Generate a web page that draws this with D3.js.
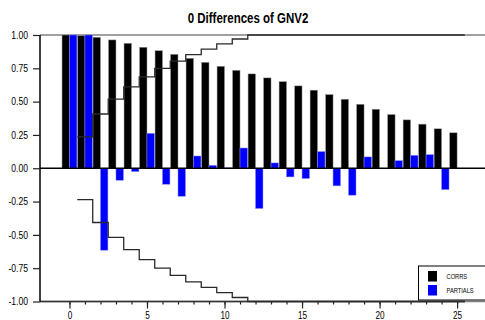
<!DOCTYPE html>
<head>
  <meta charset="utf-8">
  <script src="https://d3js.org/d3.v7.min.js"></script>
  <style>
    body { margin:0; background:#fff; }
    text { font-family: "Liberation Sans", Arial, sans-serif; }
  </style>
</head>
<body>
<script>

/* Data */
/* ==== */

var lags = d3.range(0, 26);

var corrs = [1.000, 0.995, 0.983, 0.963, 0.938, 0.908, 0.882, 0.855, 0.825, 0.795,
             0.765, 0.735, 0.708, 0.678, 0.650, 0.618, 0.586, 0.553, 0.518, 0.480,
             0.443, 0.403, 0.363, 0.331, 0.296, 0.266];

var partials = [1.000, 1.000, -0.615, -0.090, -0.025, 0.262, -0.120, -0.210, 0.092, 0.022,
                0.003, 0.152, -0.302, 0.040, -0.065, -0.077, 0.125, -0.132, -0.202, 0.085,
                0.000, 0.057, 0.097, 0.102, -0.160, 0.000];

// confidence band, lags 1..25
var bandLags = d3.range(1, 26);
var band = [0.236, 0.407, 0.519, 0.610, 0.686, 0.749, 0.804, 0.852, 0.894, 0.934,
            0.970, 1, 1, 1, 1, 1, 1, 1, 1, 1, 1, 1, 1, 1, 1];

var yTicks = [-1, -0.75, -0.5, -0.25, 0, 0.25, 0.5, 0.75, 1];
var xMajor = [0, 5, 10, 15, 20, 25];

var seriesNames = ["CORRS", "PARTIALS"];
var seriesColors = ["#000000", "#0000ff"];


/* Set up */
/* ====== */

var width = 485,
    height = 320,
    margin = { top: 35, right: 0, bottom: 18, left: 40 },
    squeeze = 0.82;   // no narrow font installed, so squeeze the text

var svg = d3.select('body')
  .append('svg')
    .attr('width', width)
    .attr('height', height);

svg.append('rect')
    .attr('width', width)
    .attr('height', height)
    .attr('fill', '#fff');

var x = d3.scaleLinear()
    .domain([-1.9, 26.8])
    .range([margin.left, width - margin.right]);

var y = d3.scaleLinear()
    .domain([-1, 1])
    .range([height - margin.bottom - 0.5, margin.top]);

var barW = 0.48;

// squeeze a text horizontally, keeping its x anchor in place
function narrow(sel) {
  sel.each(function() {
    var t = d3.select(this),
        tx = +t.attr('x') || 0;
    t.attr('x', tx / squeeze)
     .attr('transform', 'scale(' + squeeze + ',1)');
  });
}

// title
svg.append('g')
    .attr('transform', 'translate(248,23)')
  .append('text')
    .attr('text-anchor', 'middle')
    .attr('font-size', 14)
    .attr('font-weight', 'bold')
    .text('0 Differences of GNV2')
    .call(narrow);

// grey frame lines top and bottom
svg.selectAll('.frame')
    .data([1, -1])
    .enter()
  .append('line')
    .attr('x1', x.range()[0])
    .attr('x2', x.range()[1])
    .attr('y1', function(d) { return y(d); })
    .attr('y2', function(d) { return y(d); })
    .attr('stroke', '#808080')
    .attr('stroke-width', 1.6);

// x axis: minor ticks
var xMinor = d3.axisBottom(x)
    .tickValues(lags)
    .tickSize(3)
    .tickFormat('');

var gxMinor = svg.append('g')
    .attr('transform', 'translate(0,' + y(-1) + ')')
    .call(xMinor);
gxMinor.select('.domain').remove();

var xAxis = d3.axisBottom(x)
    .tickValues(xMajor)
    .tickSize(7)
    .tickPadding(3)
    .tickFormat(d3.format('d'));

var gx = svg.append('g')
    .attr('transform', 'translate(0,' + y(-1) + ')')
    .call(xAxis);
gx.select('.domain').remove();
gx.selectAll('text').attr('font-size', 10).attr('fill', '#000').call(narrow);
svg.selectAll('.tick line').attr('stroke', '#222').attr('stroke-width', 1.2);

// dark part of the x axis line
svg.append('line')
    .attr('x1', x.range()[0])
    .attr('x2', x(25.5))
    .attr('y1', y(-1))
    .attr('y2', y(-1))
    .attr('stroke', '#333')
    .attr('stroke-width', 1.4);

// y axis
var yAxis = d3.axisLeft(y)
    .tickValues(yTicks)
    .tickSize(7)
    .tickPadding(5)
    .tickFormat(function(d) { return d.toFixed(2); });

var gy = svg.append('g')
    .attr('transform', 'translate(' + x.range()[0] + ',0)')
    .call(yAxis);
gy.select('.domain')
    .attr('d', 'M0,' + y(1) + 'V' + y(-1))
    .attr('stroke', '#000')
    .attr('stroke-width', 1.5);
gy.selectAll('text').attr('font-size', 10.5).attr('fill', '#000').call(narrow);
gy.selectAll('.tick line').attr('stroke', '#222').attr('stroke-width', 1.2);


// Bars
// ====

svg.selectAll('.corrs')
    .data(lags)
    .enter()
  .append('rect')
    .classed('corrs', true)
    .attr('x', function(d) { return x(d - barW); })
    .attr('width', x(barW) - x(0))
    .attr('y', function(d) { return y(Math.max(0, corrs[d])); })
    .attr('height', function(d) { return Math.abs(y(corrs[d]) - y(0)); })
    .attr('fill', seriesColors[0])
    .attr('stroke', '#999')
    .attr('stroke-width', 0.5);

svg.selectAll('.partials')
    .data(lags.filter(function(d) { return partials[d] !== 0; }))
    .enter()
  .append('rect')
    .classed('partials', true)
    .attr('x', function(d) { return x(d); })
    .attr('width', x(barW) - x(0))
    .attr('y', function(d) { return y(Math.max(0, partials[d])); })
    .attr('height', function(d) { return Math.abs(y(partials[d]) - y(0)); })
    .attr('fill', seriesColors[1])
    .attr('stroke', '#8888ff')
    .attr('stroke-width', 0.5);

// zero line
svg.append('line')
    .attr('x1', x.range()[0])
    .attr('x2', x.range()[1])
    .attr('y1', y(0))
    .attr('y2', y(0))
    .attr('stroke', '#000')
    .attr('stroke-width', 1.3);


// Confidence bands
// ================

var bandPts = bandLags.map(function(k, i) { return [k - 0.5, band[i]]; });
bandPts.push([25.5, band[band.length - 1]]);

var step = d3.line()
    .x(function(d) { return x(d[0]); })
    .curve(d3.curveStepAfter);

svg.append('path')
    .attr('d', step.y(function(d) { return y(d[1]); })(bandPts))
    .attr('fill', 'none')
    .attr('stroke', '#2a2a2a')
    .attr('stroke-width', 1.3);

svg.append('path')
    .attr('d', step.y(function(d) { return y(-d[1]); })(bandPts))
    .attr('fill', 'none')
    .attr('stroke', '#2a2a2a')
    .attr('stroke-width', 1.3);


// Legend
// ======

var legend = svg.append('g')
    .attr('transform', 'translate(418.5,266)');

legend.append('rect')
    .attr('width', 80)
    .attr('height', 34)
    .attr('fill', '#fff')
    .attr('stroke', '#000')
    .attr('stroke-width', 1);

seriesNames.forEach(function(name, i) {
  legend.append('rect')
      .attr('x', 9.5)
      .attr('y', 5 + i * 14)
      .attr('width', 9)
      .attr('height', 10.5)
      .attr('fill', seriesColors[i]);
  legend.append('text')
      .attr('x', 28)
      .attr('y', 13.5 + i * 14)
      .attr('font-size', 7)
      .text(name)
      .call(narrow);
});

</script>
</body>
